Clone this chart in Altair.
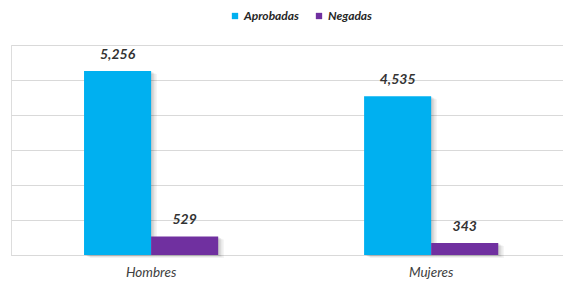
import altair as alt
import pandas as pd

categories = ["Hombres", "Mujeres"]
series = ["Aprobadas", "Negadas"]
aprobadas = [5256, 4535]
negadas = [529, 343]
colors = ["#00B0F0", "#7030A0"]

rows = []
for i, c in enumerate(categories):
    rows.append({"cat": c, "serie": series[0], "val": aprobadas[i], "lbl": f"{aprobadas[i]:,}"})
    rows.append({"cat": c, "serie": series[1], "val": negadas[i], "lbl": f"{negadas[i]:,}"})
df = pd.DataFrame(rows)

FONT = "Lato"
BW = 134  # approximate group width in px

x = alt.X("cat:N", sort=categories, title=None,
          scale=alt.Scale(paddingInner=0.521, paddingOuter=0.246, align=0.53),
          axis=alt.Axis(labelAngle=0, labelFont=FONT, labelFontStyle="italic",
                        labelFontSize=13.5, labelColor="#404040", labelPadding=10,
                        ticks=False, domain=True, domainColor="#d9d9d9", grid=False))
y = alt.Y("val:Q", title=None,
          scale=alt.Scale(domain=[0, 6000], nice=False),
          axis=alt.Axis(values=[0, 1000, 2000, 3000, 4000, 5000, 6000], labels=False,
                        ticks=False, domain=False, grid=True, gridColor="#d9d9d9"))
xo = alt.XOffset("serie:N", sort=series, scale=alt.Scale(paddingInner=0))

base = alt.Chart(df)

shadows = []
for off, op in [(6, 0.04), (4.5, 0.05), (3, 0.06), (1.5, 0.07)]:
    xs = alt.XOffset("serie:N", sort=series,
                     scale=alt.Scale(paddingInner=0, range=[off, BW + off]))
    shadows.append(base.mark_bar(color="#000000", opacity=op, yOffset=off / 2).encode(
        x=x, y=y, xOffset=xs))

bars = base.mark_bar().encode(
    x=x, y=y, xOffset=xo,
    color=alt.Color("serie:N", sort=series,
                    scale=alt.Scale(domain=series, range=colors),
                    legend=alt.Legend(title=None, orient="none", direction="horizontal",
                                      legendX=218, legendY=-35,
                                      symbolType="square", symbolSize=40,
                                      symbolStrokeWidth=0,
                                      labelFont=FONT, labelFontStyle="italic",
                                      labelFontWeight="bold", labelFontSize=12,
                                      labelColor="#262626", columnPadding=14,
                                      symbolOffset=0, labelOffset=3)),
)

text = base.mark_text(baseline="middle", dy=-16, font=FONT, fontStyle="italic",
                      fontWeight="bold", fontSize=14, color="#333333").encode(
    x=x, y=y, xOffset=xo, text="lbl:N")

chart = alt.layer(*shadows, bars, text).resolve_scale(xOffset="independent").properties(
    width=552, height=210,
    padding={"left": 3, "right": 0, "top": 37, "bottom": 32},
    autosize=alt.AutoSizeParams(type="none"),
).configure_view(stroke=None).configure(background="white")

chart.save("out.html", embed_options={"renderer": "svg", "actions": False})
